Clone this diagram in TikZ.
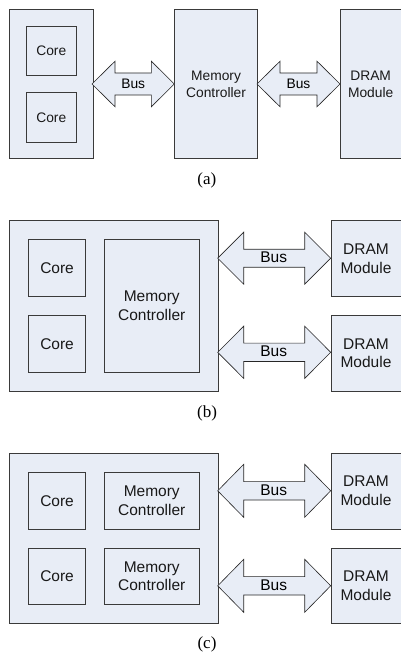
\documentclass[tikz,border=0pt]{standalone}
\usepackage{fontspec}
\setmainfont{Liberation Serif}
\setsansfont{Liberation Sans}
\definecolor{boxfill}{HTML}{E8EDF6}
\definecolor{boxline}{HTML}{3A3A3A}
\newcommand{\BusArrow}[6]{% #1 left x, #2 right x, #3 centre y, #4 head length, #5 half head, #6 half shaft
  \draw[busarrow] (#1,#3) -- (#1+#4,#3-#5) -- (#1+#4,#3-#6) -- (#2-#4,#3-#6) -- (#2-#4,#3-#5)
    -- (#2,#3) -- (#2-#4,#3+#5) -- (#2-#4,#3+#6) -- (#1+#4,#3+#6) -- (#1+#4,#3+#5) -- cycle;}
\begin{document}
\begin{tikzpicture}[x=1pt,y=-1pt,
  blk/.style={draw=boxline, fill=boxfill, line width=0.8pt, anchor=north west, inner sep=0pt, align=center, text=black!90},
  smallf/.style={font=\sffamily\fontsize{13.8}{16.5}\selectfont},
  bigf/.style={font=\sffamily\fontsize{15.5}{18.8}\selectfont},
  busarrow/.style={draw=black!85, fill=boxfill, line width=0.6pt, line join=miter},
  panelcap/.style={font=\rmfamily\fontsize{17}{20}\selectfont}]
\useasboundingbox (0,0) rectangle (401,655);
% ---------- (a)
\node[blk, minimum width=83.4pt, minimum height=149pt] (cpuA) at (9.3,9.3) {};
\node[blk, smallf, minimum width=49.7pt, minimum height=49pt] (coreA1) at (26,26) {Core};
\node[blk, smallf, minimum width=49.7pt, minimum height=49.4pt] (coreA2) at (26,92.3) {Core};
\node[blk, smallf, minimum width=82.7pt, minimum height=149pt] (mcA) at (174.3,9.3) {Memory\\Controller};
\node[blk, smallf, minimum width=60.5pt, minimum height=149pt] (dramA) at (340,9.3) {DRAM\\Module};
\BusArrow{92}{174.3}{84}{23}{22.8}{11}
\node[smallf] (busA1) at (133.2,84) {Bus};
\BusArrow{257}{340}{84}{23}{22.8}{11}
\node[smallf] (busA2) at (298.5,84) {Bus};
\node[panelcap] (labA) at (206.8,180.5) {(a)};
% ---------- (b)
\node[blk, minimum width=208.4pt, minimum height=170.7pt] (cpuB) at (9.3,220) {};
\node[blk, bigf, minimum width=56.7pt, minimum height=56.7pt] (coreB1) at (28.3,239.3) {Core};
\node[blk, bigf, minimum width=56.7pt, minimum height=56.7pt] (coreB2) at (28.3,315) {Core};
\node[blk, bigf, minimum width=94.7pt, minimum height=132.4pt] (mcB) at (104,239.3) {Memory\\Controller};
\node[blk, bigf, minimum width=69.8pt, minimum height=76pt] (dramB1) at (330.7,220) {DRAM\\Module};
\node[blk, bigf, minimum width=69.8pt, minimum height=75.7pt] (dramB2) at (330.7,315) {DRAM\\Module};
\BusArrow{217.7}{330.7}{258.2}{26}{26}{9}
\node[bigf] (busB1) at (273.7,257.5) {Bus};
\BusArrow{217.7}{330.7}{352.3}{26}{26.1}{9.2}
\node[bigf] (busB2) at (273.7,351.6) {Bus};
\node[panelcap] (labB) at (207,413) {(b)};
% ---------- (c)
\node[blk, minimum width=208.4pt, minimum height=170.6pt] (cpuC) at (9.3,452.7) {};
\node[blk, bigf, minimum width=56.7pt, minimum height=56.4pt] (coreC1) at (28.3,472.3) {Core};
\node[blk, bigf, minimum width=94.7pt, minimum height=56.4pt] (mcC1) at (104,472.3) {Memory\\Controller};
\node[blk, bigf, minimum width=56.7pt, minimum height=56.3pt] (coreC2) at (28.3,547.7) {Core};
\node[blk, bigf, minimum width=94.7pt, minimum height=56.3pt] (mcC2) at (104,547.7) {Memory\\Controller};
\node[blk, bigf, minimum width=69.8pt, minimum height=76pt] (dramC1) at (330.7,452.7) {DRAM\\Module};
\node[blk, bigf, minimum width=69.8pt, minimum height=75.6pt] (dramC2) at (330.7,547.7) {DRAM\\Module};
\BusArrow{217.7}{330.7}{490.8}{26}{26.5}{9.2}
\node[bigf] (busC1) at (273.7,490.5) {Bus};
\BusArrow{217.7}{330.7}{585.8}{26}{26.5}{9.2}
\node[bigf] (busC2) at (273.7,585.5) {Bus};
\node[panelcap] (labC) at (207,644.5) {(c)};
\end{tikzpicture}
\end{document}
